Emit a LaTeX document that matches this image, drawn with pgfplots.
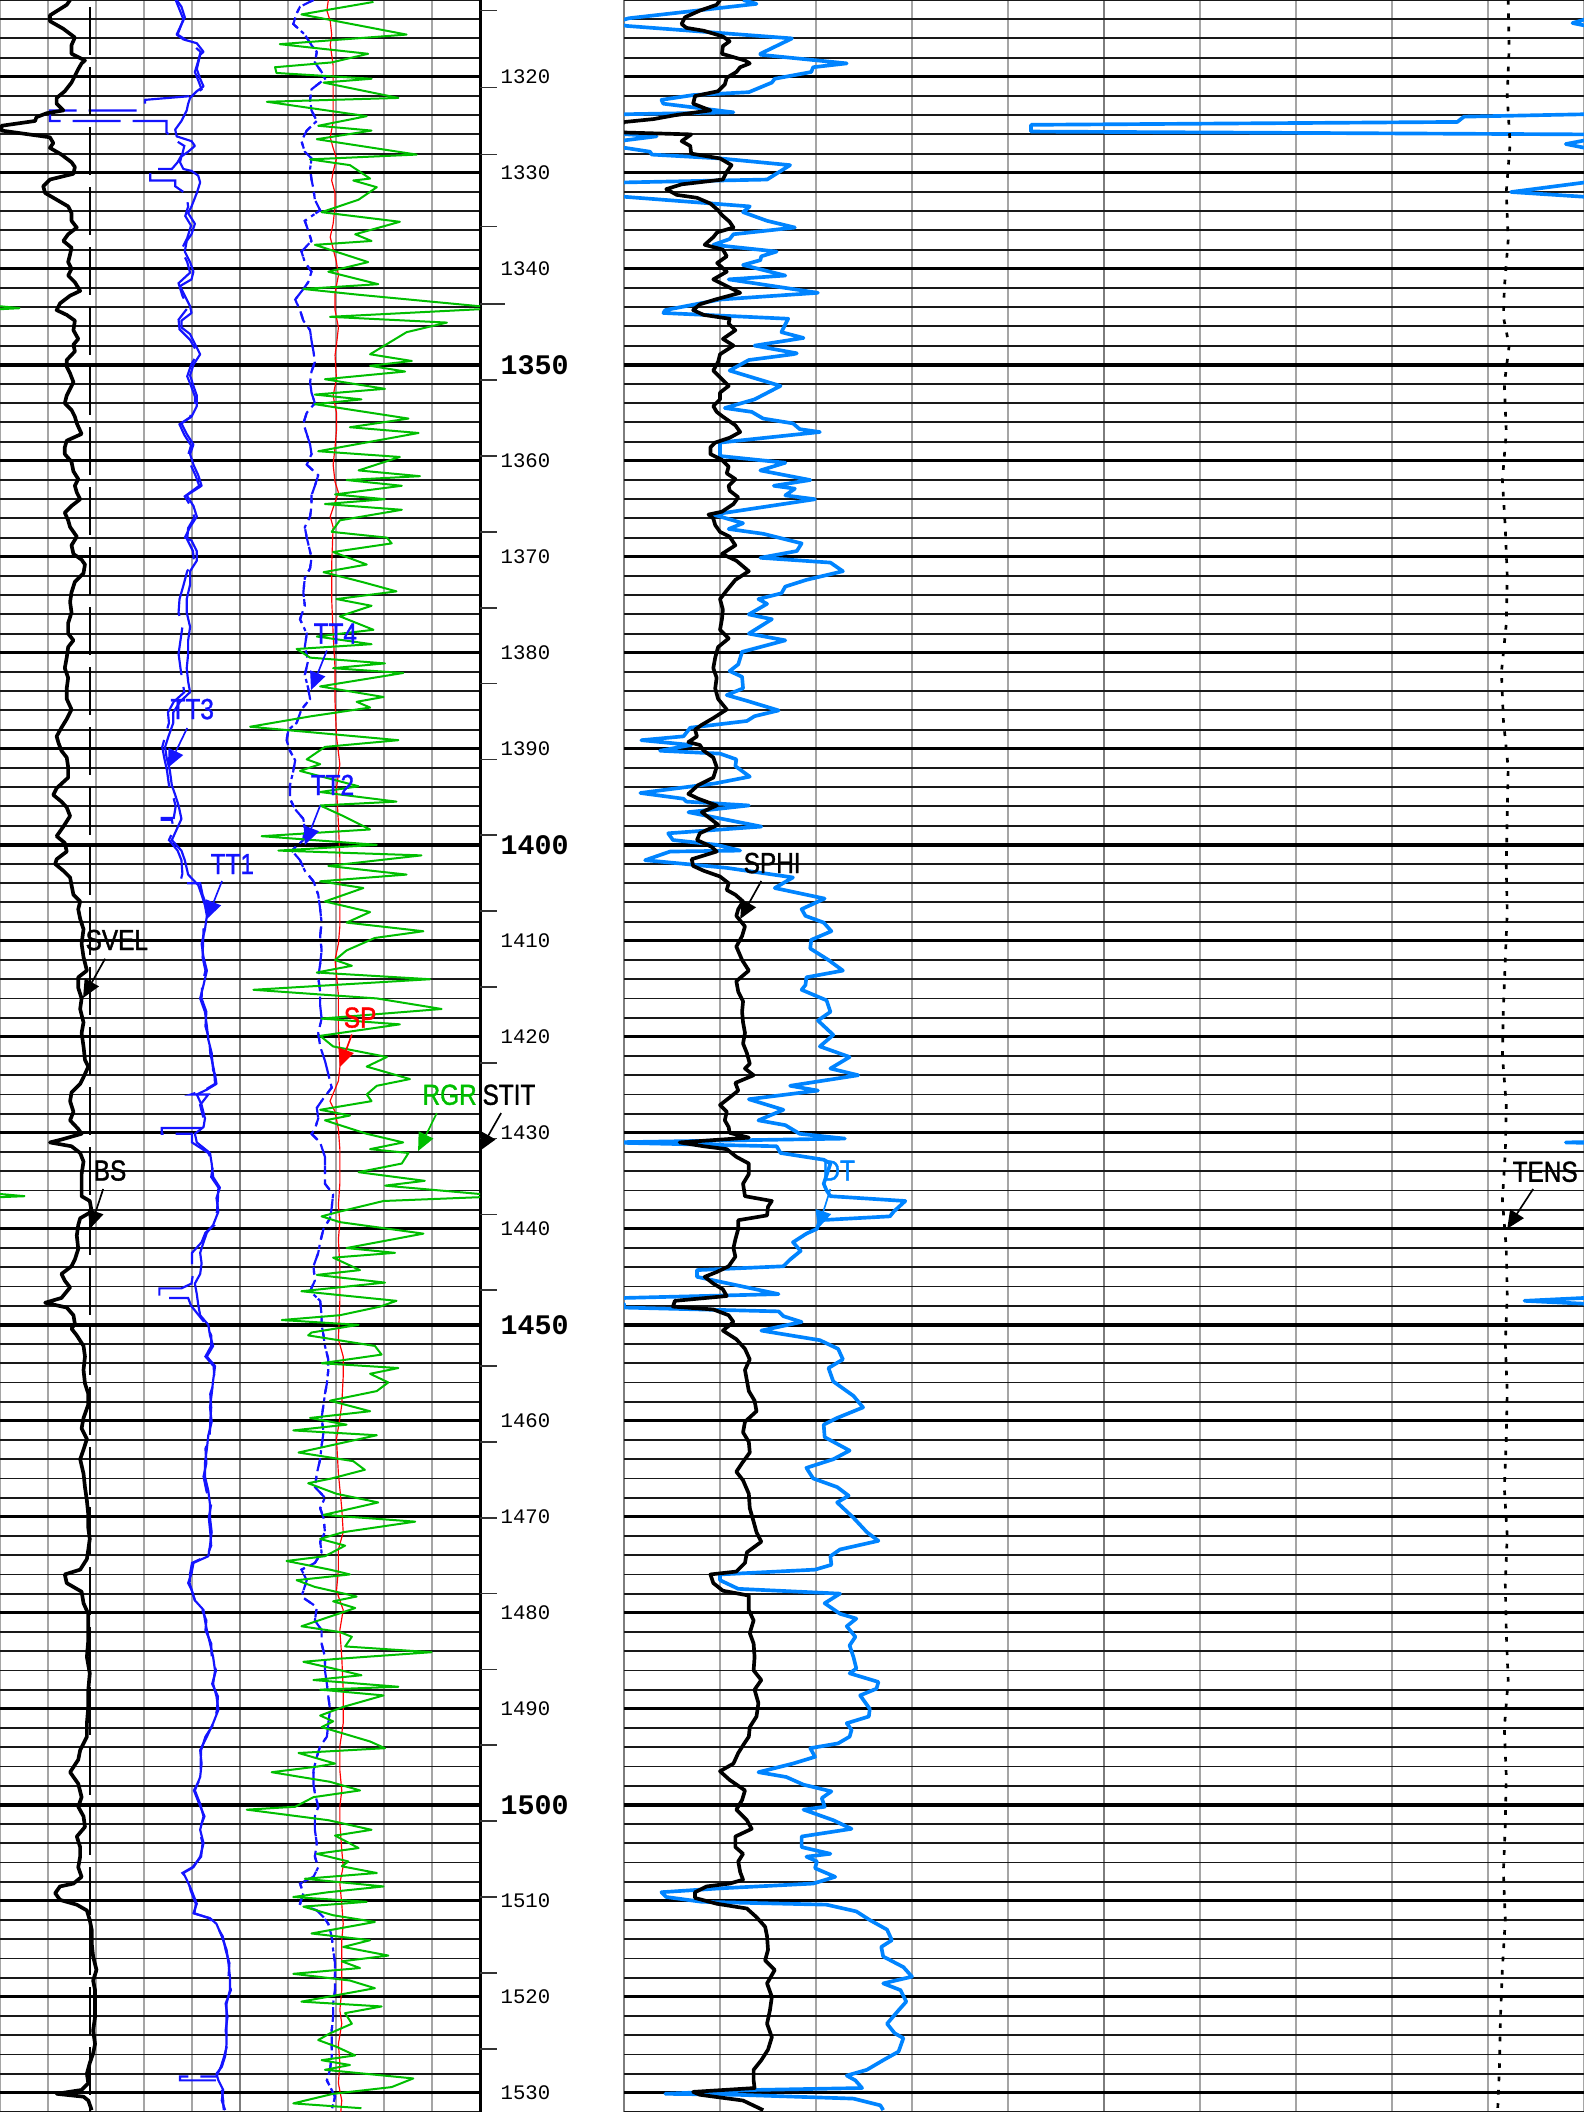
\documentclass[border=0pt]{standalone}
\usepackage{pgfplots}
\pgfplotsset{compat=1.18}
\usepackage{pgfplotstable}
\usepackage{fontspec}
\usetikzlibrary{arrows.meta}
\newfontfamily\lblfont[FakeStretch=0.84,FakeBold=1.2]{Liberation Sans}
\newfontfamily\depthfont{Liberation Mono}
\definecolor{ttblue}{RGB}{20,20,255}
\definecolor{dtblue}{RGB}{0,132,255}
\definecolor{rgrgreen}{RGB}{0,190,0}
\definecolor{gridgray}{RGB}{165,165,165}
\definecolor{griddark}{RGB}{125,125,125}

% ---------- left track curves (depth, value in track divisions) ----------
\pgfplotstableread[row sep=\\]{d v\\
1312.0 1.46\\ 1312.5 1.39\\ 1313.6 1.04\\ 1314.2 1.04\\ 1315.0 1.32\\ 1315.9 1.56\\ 1316.7 1.49\\ 1317.6 1.49\\ 1318.3 1.77\\ 1318.6 1.70\\
1319.2 1.63\\ 1319.9 1.56\\ 1320.6 1.49\\ 1321.5 1.35\\ 1322.2 1.18\\ 1322.8 1.18\\ 1323.5 1.32\\ 1323.8 0.97\\ 1324.2 0.76\\ 1324.6 0.73\\
1325.1 0.03\\ 1325.6 0.03\\ 1326.3 1.04\\ 1326.9 1.11\\ 1327.4 1.04\\ 1328.1 1.28\\ 1328.9 1.49\\ 1329.4 1.56\\ 1330.1 1.53\\ 1330.7 1.04\\
1331.4 0.90\\ 1332.1 0.94\\ 1332.8 1.18\\ 1333.5 1.42\\ 1334.2 1.49\\ 1335.0 1.49\\ 1335.7 1.60\\ 1336.4 1.42\\ 1337.1 1.32\\ 1337.8 1.49\\
1338.5 1.46\\ 1339.3 1.42\\ 1340.0 1.49\\ 1340.7 1.42\\ 1341.4 1.56\\ 1342.3 1.67\\ 1342.8 1.46\\ 1343.6 1.25\\ 1344.3 1.18\\ 1344.8 1.39\\
1345.4 1.56\\ 1346.4 1.53\\ 1347.3 1.63\\ 1347.9 1.53\\ 1348.6 1.56\\ 1349.5 1.39\\ 1350.2 1.39\\ 1350.9 1.46\\ 1351.8 1.53\\ 1352.5 1.46\\
1353.2 1.39\\ 1354.0 1.35\\ 1354.7 1.49\\ 1355.4 1.56\\ 1356.1 1.60\\ 1357.2 1.70\\ 1357.9 1.39\\ 1358.6 1.35\\ 1359.3 1.35\\ 1360.1 1.49\\
1361.1 1.53\\ 1361.9 1.63\\ 1362.6 1.56\\ 1363.3 1.60\\ 1364.0 1.67\\ 1364.7 1.49\\ 1365.4 1.35\\ 1366.2 1.42\\ 1366.9 1.46\\ 1367.9 1.60\\
1368.8 1.49\\ 1369.7 1.53\\ 1370.3 1.70\\ 1370.8 1.77\\ 1371.7 1.74\\ 1372.6 1.56\\ 1373.7 1.49\\ 1374.7 1.46\\ 1375.8 1.49\\ 1376.9 1.42\\
1378.0 1.42\\ 1378.7 1.53\\ 1379.4 1.42\\ 1380.5 1.39\\ 1381.6 1.35\\ 1382.6 1.42\\ 1383.7 1.39\\ 1384.8 1.39\\ 1385.9 1.49\\ 1386.9 1.39\\
1387.8 1.28\\ 1388.7 1.18\\ 1389.4 1.22\\ 1390.2 1.28\\ 1390.9 1.39\\ 1391.9 1.42\\ 1393.0 1.42\\ 1394.1 1.18\\ 1394.8 1.11\\ 1395.5 1.28\\
1396.1 1.39\\ 1397.0 1.46\\ 1398.1 1.32\\ 1399.1 1.18\\ 1399.8 1.35\\ 1400.7 1.39\\ 1401.5 1.18\\ 1402.0 1.15\\ 1402.7 1.32\\ 1403.4 1.46\\
1404.2 1.49\\ 1405.2 1.53\\ 1405.9 1.67\\ 1406.7 1.63\\ 1407.7 1.67\\ 1408.8 1.74\\ 1410.3 1.70\\ 1411.7 1.74\\ 1413.1 1.81\\ 1413.8 1.63\\
1414.9 1.63\\ 1416.0 1.70\\ 1417.1 1.67\\ 1418.5 1.74\\ 1419.6 1.70\\ 1421.0 1.74\\ 1422.4 1.77\\ 1423.1 1.84\\ 1424.2 1.74\\ 1424.9 1.67\\
1425.8 1.49\\ 1426.7 1.46\\ 1427.8 1.53\\ 1428.7 1.46\\ 1429.6 1.63\\ 1430.1 1.70\\ 1430.7 1.28\\ 1431.0 1.04\\ 1431.4 1.49\\ 1432.1 1.67\\
1433.0 1.74\\ 1434.3 1.70\\ 1435.7 1.70\\ 1436.6 1.70\\ 1437.1 1.87\\ 1438.2 1.91\\ 1438.9 1.67\\ 1439.6 1.63\\ 1440.7 1.60\\ 1442.1 1.63\\
1443.2 1.56\\ 1443.9 1.49\\ 1444.7 1.28\\ 1445.4 1.35\\ 1446.1 1.46\\ 1447.2 1.28\\ 1447.7 0.94\\ 1448.2 1.39\\ 1449.0 1.53\\ 1449.9 1.56\\
1450.4 1.49\\ 1451.1 1.60\\ 1452.2 1.74\\ 1453.3 1.77\\ 1454.7 1.74\\ 1456.1 1.77\\ 1457.2 1.84\\ 1458.3 1.84\\ 1459.7 1.74\\ 1460.8 1.70\\
1461.9 1.81\\ 1463.0 1.74\\ 1464.0 1.67\\ 1465.5 1.74\\ 1466.9 1.77\\ 1468.3 1.81\\ 1469.8 1.84\\ 1471.2 1.84\\ 1472.3 1.87\\ 1473.4 1.84\\
1474.4 1.81\\ 1475.5 1.67\\ 1476.0 1.35\\ 1476.9 1.39\\ 1477.8 1.70\\ 1479.0 1.74\\ 1480.1 1.84\\ 1481.1 1.84\\ 1482.8 1.84\\ 1484.6 1.81\\
1486.3 1.87\\ 1488.0 1.84\\ 1489.8 1.84\\ 1491.5 1.81\\ 1492.9 1.81\\ 1494.3 1.67\\ 1495.3 1.63\\ 1496.6 1.46\\ 1497.8 1.63\\ 1499.2 1.70\\
1500.2 1.63\\ 1501.2 1.74\\ 1502.3 1.77\\ 1503.3 1.60\\ 1504.4 1.67\\ 1505.4 1.67\\ 1506.5 1.63\\ 1507.5 1.70\\ 1508.2 1.53\\ 1508.5 1.25\\
1509.2 1.15\\ 1509.9 1.25\\ 1510.4 1.60\\ 1511.0 1.81\\ 1512.0 1.87\\ 1513.0 1.91\\ 1514.4 1.91\\ 1515.8 1.94\\ 1517.2 2.01\\ 1518.3 1.94\\
1519.3 1.98\\ 1520.7 1.98\\ 1522.1 1.98\\ 1523.5 1.94\\ 1524.9 1.98\\ 1525.9 1.94\\ 1526.9 1.87\\ 1528.0 1.81\\ 1529.0 1.84\\ 1529.7 1.70\\
1530.1 1.18\\ 1530.4 1.74\\ 1530.8 1.84\\ 1531.8 1.91\\
}\svel

\pgfplotstableread[row sep=\\]{d v\\
1312.0 3.68\\ 1312.7 3.78\\ 1313.8 3.85\\ 1315.6 3.68\\ 1316.1 3.82\\ 1316.5 4.10\\ 1317.4 4.24\\ 1317.7 4.17\\ 1319.2 4.10\\ 1320.2 4.17\\
1321.0 4.24\\ 1321.5 4.10\\ 1322.2 3.96\\ 1322.8 3.92\\ 1323.5 3.89\\ 1324.6 3.78\\ 1325.5 3.65\\ 1326.2 3.68\\ 1326.7 3.99\\ 1327.2 4.06\\
1327.8 3.92\\ 1328.3 3.78\\ 1328.9 3.75\\ 1329.6 3.82\\ 1329.8 3.99\\ 1330.3 4.13\\ 1331.0 4.17\\ 1332.1 4.10\\ 1333.5 3.99\\ 1334.2 3.92\\
1335.3 4.06\\ 1336.4 3.99\\ 1337.1 3.89\\ 1338.2 3.85\\ 1339.3 3.96\\ 1340.3 4.03\\ 1341.1 3.99\\ 1341.8 3.75\\ 1342.8 3.85\\ 1343.9 3.96\\
1344.6 3.99\\ 1345.4 3.78\\ 1346.1 3.78\\ 1346.8 3.96\\ 1347.5 4.03\\ 1348.2 4.10\\ 1348.9 4.17\\ 1350.0 4.03\\ 1351.1 3.96\\ 1352.2 4.03\\
1353.2 4.10\\ 1354.3 4.10\\ 1355.4 3.99\\ 1356.1 3.78\\ 1357.2 3.89\\ 1358.3 4.03\\ 1359.3 3.96\\ 1360.4 4.03\\ 1361.5 4.13\\ 1362.6 4.20\\
1363.6 3.89\\ 1364.7 4.03\\ 1365.8 4.10\\ 1366.9 3.96\\ 1368.0 3.85\\ 1368.3 3.99\\ 1369.4 4.10\\ 1370.4 4.10\\ 1371.5 3.96\\ 1372.9 3.96\\
1374.4 3.89\\ 1375.8 3.89\\ 1377.3 3.96\\ 1378.7 3.92\\ 1380.1 3.92\\ 1381.6 3.89\\ 1383.0 3.92\\ 1384.1 3.96\\ 1385.1 3.75\\ 1386.2 3.61\\
1387.3 3.61\\ 1388.7 3.51\\ 1389.8 3.44\\ 1390.9 3.47\\ 1392.3 3.54\\ 1393.8 3.58\\ 1394.8 3.65\\ 1395.9 3.72\\ 1397.3 3.78\\ 1398.4 3.68\\
1399.5 3.58\\ 1400.6 3.78\\ 1401.6 3.85\\ 1403.1 3.92\\ 1404.2 4.13\\ 1405.2 4.20\\ 1406.3 4.27\\ 1407.4 4.31\\ 1408.8 4.27\\ 1410.3 4.20\\
1411.7 4.24\\ 1413.1 4.31\\ 1414.6 4.24\\ 1416.0 4.17\\ 1417.4 4.27\\ 1418.9 4.31\\ 1420.3 4.34\\ 1421.7 4.41\\ 1423.5 4.44\\ 1423.9 4.48\\
1424.9 4.51\\ 1425.5 4.31\\ 1426.0 4.10\\ 1427.1 4.20\\ 1428.5 4.27\\ 1429.4 4.24\\ 1430.1 4.06\\ 1431.0 4.10\\ 1432.1 4.375\\ 1433.2 4.41\\
1434.6 4.44\\ 1435.7 4.58\\ 1436.8 4.51\\ 1438.2 4.55\\ 1439.6 4.44\\ 1440.4 4.31\\ 1441.4 4.24\\ 1442.5 4.17\\ 1443.6 4.20\\ 1444.7 4.17\\
1445.7 4.06\\ 1446.8 4.10\\ 1447.9 4.13\\ 1449.0 4.17\\ 1450.0 4.34\\ 1451.1 4.375\\ 1452.2 4.44\\ 1453.3 4.31\\ 1454.3 4.48\\ 1455.8 4.44\\
1457.2 4.41\\ 1458.6 4.375\\ 1460.1 4.41\\ 1461.5 4.34\\ 1462.9 4.31\\ 1464.4 4.27\\ 1465.8 4.27\\ 1467.3 4.34\\ 1468.7 4.375\\ 1470.1 4.375\\
1471.6 4.41\\ 1473.0 4.375\\ 1474.1 4.34\\ 1474.8 4.03\\ 1475.9 3.99\\ 1476.9 3.92\\ 1477.6 3.99\\ 1478.7 4.06\\ 1479.7 4.24\\ 1480.8 4.27\\
1481.8 4.31\\ 1483.2 4.375\\ 1484.6 4.44\\ 1486.0 4.48\\ 1487.4 4.44\\ 1488.7 4.51\\ 1490.1 4.55\\ 1491.5 4.44\\ 1492.9 4.31\\ 1494.3 4.17\\
1495.7 4.20\\ 1497.1 4.17\\ 1498.5 4.06\\ 1499.9 4.17\\ 1501.2 4.24\\ 1502.6 4.17\\ 1504.0 4.24\\ 1505.4 4.17\\ 1506.5 4.03\\ 1507.1 3.82\\
1507.8 3.89\\ 1508.9 3.99\\ 1510.3 4.10\\ 1511.3 4.03\\ 1511.8 4.375\\ 1512.4 4.51\\ 1513.7 4.62\\ 1515.1 4.72\\ 1516.5 4.76\\ 1517.9 4.79\\
1519.3 4.79\\ 1520.7 4.72\\ 1522.1 4.72\\ 1523.5 4.72\\ 1524.9 4.72\\ 1526.2 4.69\\ 1527.3 4.62\\ 1528.0 4.51\\ 1528.7 4.55\\ 1529.7 4.65\\
1530.8 4.62\\ 1531.8 4.69\\
}\ttone

\pgfplotstableread[row sep=\\]{d v\\
1312.0 3.66\\ 1313.0 3.74\\ 1314.0 3.82\\ 1315.6 3.70\\ 1316.4 3.95\\ 1317.4 4.18\\ 1318.5 4.12\\ 1319.5 4.06\\ 1320.5 4.14\\ 1321.3 4.20\\
1322.0 3.99\\ 1322.4 3.02\\ 1322.8 3.02\\ 1323.5 2.92\\ 1323.5 1.04\\ 1324.6 1.04\\ 1324.6 3.47\\ 1325.8 3.47\\ 1326.7 3.68\\ 1327.2 3.84\\
1328.0 3.80\\ 1328.9 3.70\\ 1329.6 3.58\\ 1329.6 3.13\\ 1330.8 3.13\\ 1330.8 3.65\\ 1331.4 3.65\\ 1332.2 3.88\\ 1333.5 3.92\\ 1334.5 3.86\\
1335.5 3.98\\ 1336.8 3.90\\ 1338.0 3.78\\ 1339.3 3.90\\ 1340.4 3.96\\ 1341.5 3.72\\ 1342.8 3.80\\ 1344.0 3.92\\ 1345.3 3.72\\ 1346.3 3.74\\
1347.4 3.96\\ 1348.8 4.12\\ 1350.0 3.98\\ 1351.2 3.90\\ 1352.2 3.98\\ 1353.3 4.06\\ 1354.4 4.06\\ 1355.5 3.95\\ 1356.2 3.74\\ 1357.3 3.84\\
1358.4 3.98\\ 1359.4 3.92\\ 1360.5 3.98\\ 1361.6 4.08\\ 1362.6 4.15\\ 1363.7 3.85\\ 1364.8 3.98\\ 1365.9 4.05\\ 1367.0 3.92\\ 1368.2 3.90\\
1369.4 4.02\\ 1370.5 4.04\\ 1371.5 3.90\\ 1373.0 3.82\\ 1374.4 3.74\\ 1375.8 3.72\\ 1377.3 3.80\\ 1378.7 3.76\\ 1380.1 3.72\\ 1381.6 3.76\\
1383.0 3.80\\ 1384.1 3.84\\ 1385.1 3.62\\ 1386.2 3.50\\ 1387.3 3.52\\ 1388.7 3.44\\ 1389.8 3.38\\ 1390.9 3.42\\ 1392.3 3.48\\ 1393.8 3.52\\
1394.8 3.60\\ 1396.0 3.66\\ 1397.2 3.62\\ 1397.2 3.37\\ 1397.4 3.37\\ 1397.4 3.58\\ 1398.4 3.62\\ 1399.5 3.52\\ 1400.6 3.70\\ 1401.6 3.78\\
1403.0 3.80\\ 1404.0 3.75\\ 1404.0 4.17\\ 1405.2 4.22\\ 1406.3 4.30\\ 1407.4 4.34\\ 1408.8 4.24\\ 1410.3 4.23\\ 1411.7 4.22\\ 1413.1 4.28\\
1414.6 4.21\\ 1416.0 4.20\\ 1417.4 4.30\\ 1418.9 4.28\\ 1420.3 4.36\\ 1421.7 4.38\\ 1423.5 4.46\\ 1424.9 4.48\\ 1425.5 4.28\\ 1426.0 3.98\\
1426.0 4.34\\ 1427.1 4.17\\ 1428.5 4.24\\ 1429.5 4.24\\ 1429.5 3.37\\ 1430.1 3.37\\ 1430.1 4.00\\ 1431.0 4.00\\ 1432.1 4.34\\ 1433.2 4.44\\
1434.6 4.40\\ 1435.7 4.55\\ 1436.8 4.54\\ 1438.2 4.52\\ 1439.6 4.47\\ 1440.4 4.28\\ 1441.4 4.20\\ 1442.5 4.00\\ 1443.6 4.00\\ 1444.7 4.02\\
1445.7 3.99\\ 1446.2 3.78\\ 1446.2 3.32\\ 1447.2 3.32\\ 1447.2 3.92\\ 1448.0 3.98\\ 1449.0 4.14\\ 1450.0 4.30\\ 1451.1 4.40\\ 1452.2 4.40\\
1453.3 4.28\\ 1454.3 4.45\\ 1455.8 4.47\\ 1457.2 4.38\\ 1458.6 4.40\\ 1460.1 4.38\\ 1461.5 4.37\\ 1462.9 4.28\\ 1464.4 4.30\\ 1465.8 4.24\\
1467.3 4.30\\ 1468.7 4.40\\ 1470.1 4.35\\ 1471.6 4.38\\ 1473.0 4.40\\ 1474.1 4.31\\ 1474.8 4.00\\ 1475.9 3.96\\ 1476.9 3.95\\ 1478.7 4.06\\
1479.7 4.21\\ 1480.8 4.30\\ 1481.8 4.28\\ 1483.2 4.40\\ 1484.6 4.41\\ 1486.0 4.50\\ 1487.4 4.42\\ 1488.7 4.54\\ 1490.1 4.52\\ 1491.5 4.46\\
1492.9 4.28\\ 1494.3 4.19\\ 1495.7 4.18\\ 1497.1 4.19\\ 1498.5 4.04\\ 1499.9 4.15\\ 1501.2 4.26\\ 1502.6 4.15\\ 1504.0 4.22\\ 1505.4 4.19\\
1506.5 4.01\\ 1507.1 3.80\\ 1507.8 3.92\\ 1508.9 3.97\\ 1510.3 4.08\\ 1511.3 4.05\\ 1511.8 4.35\\ 1512.4 4.49\\ 1513.7 4.64\\ 1515.1 4.70\\
1516.5 4.78\\ 1517.9 4.76\\ 1519.3 4.81\\ 1520.7 4.70\\ 1522.1 4.74\\ 1523.5 4.70\\ 1524.9 4.74\\ 1526.2 4.67\\ 1527.3 4.60\\ 1528.3 4.51\\
1528.3 3.75\\ 1528.7 3.75\\ 1528.7 4.53\\ 1529.7 4.62\\ 1530.8 4.65\\ 1531.8 4.66\\
}\ttthree

\pgfplotstableread[row sep=\\]{d v\\
1312.0 6.53\\ 1312.7 6.25\\ 1313.4 6.18\\ 1314.5 6.11\\ 1315.6 6.35\\ 1316.7 6.49\\ 1317.4 6.60\\ 1318.5 6.56\\ 1319.5 6.70\\ 1320.2 6.77\\
1321.3 6.49\\ 1322.4 6.46\\ 1323.5 6.49\\ 1324.6 6.60\\ 1325.6 6.39\\ 1326.7 6.28\\ 1327.8 6.35\\ 1328.5 6.49\\ 1329.6 6.46\\ 1330.7 6.49\\
1331.7 6.53\\ 1332.8 6.56\\ 1333.9 6.67\\ 1335.0 6.35\\ 1336.0 6.42\\ 1337.1 6.49\\ 1338.2 6.28\\ 1339.3 6.35\\ 1340.3 6.49\\ 1341.4 6.42\\
1342.1 6.32\\ 1343.2 6.15\\ 1344.3 6.25\\ 1345.4 6.32\\ 1346.4 6.46\\ 1347.5 6.49\\ 1348.6 6.53\\ 1349.7 6.56\\ 1350.7 6.49\\ 1351.8 6.46\\
1352.9 6.49\\ 1354.0 6.56\\ 1355.0 6.39\\ 1356.1 6.32\\ 1357.2 6.39\\ 1358.3 6.46\\ 1359.3 6.49\\ 1360.4 6.39\\ 1361.5 6.63\\ 1362.6 6.56\\
1363.6 6.49\\ 1364.7 6.49\\ 1365.8 6.46\\ 1366.9 6.35\\ 1368.0 6.39\\ 1368.6 6.42\\ 1370.1 6.49\\ 1371.2 6.46\\ 1372.2 6.35\\ 1373.7 6.32\\
1375.1 6.35\\ 1376.5 6.25\\ 1378.0 6.39\\ 1379.4 6.35\\ 1380.8 6.42\\ 1382.3 6.35\\ 1383.7 6.42\\ 1384.8 6.46\\ 1385.9 6.28\\ 1387.3 6.18\\
1388.0 6.01\\ 1389.1 5.97\\ 1390.2 6.04\\ 1391.2 6.15\\ 1392.3 6.11\\ 1393.8 6.04\\ 1395.2 6.04\\ 1396.3 6.15\\ 1397.3 6.32\\ 1398.4 6.35\\
1399.5 6.32\\ 1400.6 6.08\\ 1401.6 6.25\\ 1402.7 6.35\\ 1403.8 6.53\\ 1405.2 6.63\\ 1406.7 6.67\\ 1408.1 6.70\\ 1409.5 6.67\\ 1411.0 6.70\\
1412.4 6.67\\ 1413.8 6.63\\ 1415.3 6.67\\ 1416.7 6.67\\ 1418.1 6.70\\ 1419.6 6.63\\ 1421.0 6.67\\ 1422.5 6.77\\ 1423.9 6.84\\ 1425.3 6.91\\
1426.4 6.74\\ 1427.4 6.60\\ 1428.5 6.63\\ 1429.6 6.56\\ 1430.1 6.49\\ 1431.0 6.67\\ 1432.5 6.77\\ 1433.9 6.77\\ 1435.3 6.77\\ 1436.4 6.94\\
1437.8 6.91\\ 1438.9 6.875\\ 1440.0 6.74\\ 1441.4 6.67\\ 1442.5 6.63\\ 1443.9 6.53\\ 1445.4 6.56\\ 1446.5 6.46\\ 1447.5 6.67\\ 1449.0 6.70\\
1450.0 6.70\\ 1451.1 6.74\\ 1452.2 6.77\\ 1453.6 6.84\\ 1454.7 6.84\\ 1456.1 6.81\\ 1457.2 6.77\\ 1458.3 6.74\\ 1459.7 6.70\\ 1461.2 6.74\\
1462.6 6.70\\ 1464.0 6.67\\ 1465.5 6.60\\ 1466.9 6.56\\ 1468.0 6.77\\ 1469.1 6.67\\ 1470.1 6.74\\ 1471.6 6.77\\ 1472.6 6.67\\ 1473.7 6.70\\
1474.8 6.56\\ 1475.5 6.28\\ 1476.6 6.39\\ 1477.7 6.32\\ 1478.3 6.28\\ 1479.4 6.60\\ 1480.8 6.56\\ 1481.8 6.70\\ 1483.2 6.70\\ 1484.6 6.77\\
1486.0 6.77\\ 1487.4 6.81\\ 1488.7 6.84\\ 1490.1 6.875\\ 1491.5 6.84\\ 1492.9 6.81\\ 1493.9 6.67\\ 1495.0 6.60\\ 1496.4 6.53\\ 1497.8 6.53\\
1498.8 6.56\\ 1500.2 6.63\\ 1501.2 6.56\\ 1502.6 6.56\\ 1504.0 6.60\\ 1505.4 6.56\\ 1506.5 6.63\\ 1507.5 6.53\\ 1508.2 6.25\\ 1509.2 6.32\\
1510.3 6.25\\ 1511.0 6.60\\ 1511.7 6.74\\ 1512.4 6.84\\ 1513.7 6.91\\ 1515.1 6.94\\ 1516.5 6.98\\ 1517.9 6.98\\ 1519.3 6.98\\ 1520.7 6.94\\
1522.1 6.94\\ 1523.5 6.91\\ 1524.9 6.91\\ 1526.2 6.91\\ 1527.6 6.875\\ 1528.7 6.81\\ 1529.7 6.91\\ 1530.4 6.98\\ 1531.8 6.91\\
}\tttwo

\pgfplotstableread[row sep=\\]{d v\\
1312.0 6.84\\ 1313.1 6.81\\ 1314.2 6.88\\ 1315.6 6.91\\ 1316.7 6.88\\ 1317.7 6.91\\ 1318.8 6.94\\ 1320.2 6.94\\ 1322.8 6.94\\ 1324.7 6.94\\
1326.3 6.88\\ 1327.4 6.94\\ 1328.5 7.01\\ 1329.9 6.94\\ 1330.8 6.91\\ 1332.1 6.98\\ 1333.5 6.98\\ 1335.3 6.94\\ 1336.7 6.88\\ 1339.3 7.01\\
1340.7 7.05\\ 1342.5 6.98\\ 1344.3 6.98\\ 1346.1 7.05\\ 1347.9 7.01\\ 1349.0 6.98\\ 1351.5 7.01\\ 1353.2 6.94\\ 1355.0 7.01\\ 1356.8 7.01\\
1358.6 6.98\\ 1360.4 6.94\\ 1362.2 6.98\\ 1363.3 7.05\\ 1364.9 6.94\\ 1365.8 6.88\\ 1366.9 6.94\\ 1370.8 6.91\\ 1374.4 6.91\\ 1378.0 6.94\\
1381.6 6.98\\ 1385.1 6.98\\ 1388.7 7.01\\ 1391.6 7.08\\ 1394.1 7.01\\ 1397.7 7.05\\ 1401.3 7.08\\ 1404.9 7.08\\ 1408.5 7.08\\ 1410.3 7.05\\
1412.0 6.98\\ 1415.6 7.05\\ 1419.2 7.05\\ 1421.7 7.08\\ 1423.2 7.08\\ 1424.6 7.05\\ 1426.7 6.875\\ 1427.8 6.98\\ 1429.6 7.05\\ 1431.7 7.08\\
1435.3 7.08\\ 1437.5 7.05\\ 1439.3 7.08\\ 1441.1 7.05\\ 1443.9 7.08\\ 1447.5 7.08\\ 1451.5 7.05\\ 1453.3 7.15\\ 1455.4 7.15\\ 1458.3 7.12\\
1459.7 7.08\\ 1461.9 7.01\\ 1465.5 7.05\\ 1469.1 7.12\\ 1471.6 7.15\\ 1473.4 7.05\\ 1475.5 7.05\\ 1477.7 7.01\\ 1479.7 7.15\\ 1481.8 7.08\\
1484.6 7.12\\ 1488.0 7.15\\ 1491.5 7.15\\ 1493.9 7.08\\ 1496.4 7.08\\ 1498.5 7.12\\ 1500.2 7.08\\ 1501.9 7.08\\ 1504.7 7.12\\ 1506.4 7.15\\
1508.2 7.08\\ 1510.3 7.12\\ 1512.4 7.15\\ 1514.1 7.12\\ 1516.5 7.12\\ 1519.3 7.12\\ 1521.4 7.08\\ 1522.8 7.12\\ 1524.9 7.05\\ 1526.9 7.08\\
1529.0 7.05\\ 1530.8 7.12\\ 1532.0 7.10\\
}\spcurve

\pgfplotstableread[row sep=\\]{d v\\
1312.2 7.78\\ 1313.5 6.28\\ 1315.6 8.47\\ 1316.6 5.83\\ 1317.6 7.67\\ 1318.5 6.91\\ 1319.0 5.73\\ 1319.6 5.76\\ 1320.2 7.74\\ 1320.6 6.74\\
1322.2 8.30\\ 1322.6 5.56\\ 1324.1 7.64\\ 1325.1 6.63\\ 1325.6 7.74\\ 1326.5 6.60\\ 1328.1 8.68\\ 1328.6 6.46\\ 1329.2 7.29\\ 1330.6 7.71\\
1330.8 7.36\\ 1331.5 7.85\\ 1332.8 7.47\\ 1334.1 6.70\\ 1335.1 8.33\\ 1336.4 7.40\\ 1337.1 7.74\\ 1337.5 6.56\\ 1339.3 7.67\\ 1340.3 6.84\\
1341.6 7.88\\ 1342.1 6.32\\ 1342.7 7.47\\ 1344.1 10.42\\ 1345.0 6.875\\ 1345.6 9.31\\ 1346.6 8.47\\ 1348.9 7.71\\ 1349.6 8.58\\ 1350.1 7.71\\
1350.7 8.44\\ 1351.5 6.77\\ 1352.5 8.02\\ 1353.1 6.56\\ 1353.6 7.53\\ 1354.1 6.56\\ 1355.6 8.51\\ 1356.5 7.29\\ 1357.1 8.72\\ 1359.0 6.63\\
1359.6 8.33\\ 1361.0 7.47\\ 1361.6 8.75\\ 1362.0 7.22\\ 1362.6 8.37\\ 1363.5 6.98\\ 1364.0 8.02\\ 1364.5 6.77\\ 1365.1 8.37\\ 1366.2 7.08\\
1367.4 6.91\\ 1368.0 8.06\\ 1368.6 8.16\\ 1369.5 6.94\\ 1370.8 7.64\\ 1371.6 6.74\\ 1372.6 7.53\\ 1373.6 8.26\\ 1374.4 7.01\\ 1375.1 7.74\\
1376.2 7.08\\ 1377.6 7.78\\ 1378.3 6.60\\ 1379.1 7.74\\ 1379.6 6.18\\ 1380.5 6.46\\ 1381.1 8.02\\ 1381.6 6.94\\ 1382.1 8.40\\ 1383.5 6.67\\
1384.6 7.99\\ 1385.1 7.43\\ 1385.7 7.71\\ 1386.6 6.49\\ 1387.7 5.21\\ 1389.1 8.30\\ 1389.8 6.77\\ 1391.1 6.39\\ 1391.6 6.67\\ 1392.3 6.25\\
1393.9 7.47\\ 1394.5 6.67\\ 1395.5 8.26\\ 1395.9 6.67\\ 1397.0 7.15\\ 1398.4 7.71\\ 1399.1 5.45\\ 1400.0 7.85\\ 1400.6 5.80\\ 1401.1 8.78\\
1402.2 6.84\\ 1403.1 8.47\\ 1403.8 6.67\\ 1404.5 7.57\\ 1405.9 6.77\\ 1407.0 7.71\\ 1408.1 7.22\\ 1409.0 8.82\\ 1409.7 7.81\\ 1411.0 7.22\\
1412.0 6.98\\ 1412.6 7.33\\ 1413.3 6.60\\ 1414.0 8.96\\ 1415.1 5.28\\ 1416.0 7.85\\ 1417.1 9.20\\ 1418.1 6.70\\ 1418.7 8.33\\ 1419.9 6.67\\
1421.0 6.94\\ 1422.1 8.06\\ 1423.1 7.64\\ 1424.4 8.54\\ 1425.1 7.85\\ 1426.0 7.64\\ 1426.7 7.74\\ 1427.6 6.67\\ 1428.2 7.29\\ 1428.7 6.77\\
1430.1 7.64\\ 1431.0 8.40\\ 1431.7 7.71\\ 1432.1 8.51\\ 1433.2 8.37\\ 1434.1 7.47\\ 1435.0 8.85\\ 1435.5 8.02\\ 1436.6 10.52\\ 1437.1 7.99\\
1438.2 7.08\\ 1438.7 6.70\\ 1439.3 7.08\\ 1440.5 8.82\\ 1442.0 7.22\\ 1442.5 8.23\\ 1443.0 6.94\\ 1444.3 7.50\\ 1444.8 6.60\\ 1445.6 8.02\\
1446.5 6.28\\ 1447.5 8.26\\ 1448.1 7.92\\ 1449.0 7.08\\ 1449.5 5.87\\ 1450.0 7.47\\ 1450.8 6.49\\ 1451.1 6.42\\ 1452.2 7.81\\ 1453.1 7.95\\
1454.0 6.70\\ 1454.5 8.30\\ 1455.1 7.71\\ 1456.0 8.09\\ 1456.9 7.85\\ 1457.9 6.875\\ 1459.0 7.71\\ 1459.7 6.46\\ 1460.4 7.22\\ 1461.0 6.11\\
1461.5 7.85\\ 1463.3 6.22\\ 1464.2 7.36\\ 1465.1 7.60\\ 1466.0 6.91\\ 1466.5 6.42\\ 1467.6 7.01\\ 1468.5 7.88\\ 1469.8 6.74\\ 1470.5 8.65\\
1471.6 7.15\\ 1472.3 6.67\\ 1473.0 7.19\\ 1474.1 6.77\\ 1474.6 5.97\\ 1475.5 6.875\\ 1476.0 7.29\\ 1476.6 6.18\\ 1477.3 6.56\\ 1478.3 7.43\\
1478.8 6.94\\ 1479.5 7.40\\ 1481.4 6.28\\ 1482.0 7.08\\ 1482.5 7.33\\ 1483.5 7.19\\ 1484.1 8.99\\ 1484.8 7.01\\ 1485.1 6.32\\ 1485.8 6.94\\
1486.5 7.53\\ 1487.0 6.53\\ 1487.7 8.30\\ 1488.0 6.67\\ 1488.6 7.99\\ 1489.8 7.15\\ 1490.7 6.67\\ 1491.3 6.94\\ 1491.9 6.70\\ 1493.4 7.71\\
1494.1 8.02\\ 1494.6 6.22\\ 1495.7 6.98\\ 1496.0 6.63\\ 1496.6 5.66\\ 1497.6 6.875\\ 1498.5 7.50\\ 1499.2 6.53\\ 1500.2 6.15\\ 1500.5 5.14\\
1501.6 6.84\\ 1502.6 7.74\\ 1503.2 6.98\\ 1504.5 7.47\\ 1505.1 6.60\\ 1505.9 7.26\\ 1506.4 7.12\\ 1507.1 7.85\\ 1507.7 6.35\\ 1508.5 7.99\\
1509.1 6.84\\ 1509.6 6.11\\ 1510.1 7.64\\ 1510.6 6.32\\ 1511.5 6.94\\ 1512.2 7.81\\ 1513.4 6.49\\ 1514.1 7.71\\ 1514.8 7.15\\ 1515.7 8.09\\
1516.3 7.12\\ 1517.0 7.50\\ 1517.6 6.11\\ 1518.3 7.29\\ 1519.1 7.81\\ 1520.5 6.28\\ 1521.0 7.95\\ 1521.7 7.19\\ 1522.8 7.33\\ 1523.8 6.875\\
1524.5 6.63\\ 1525.2 7.01\\ 1526.1 7.40\\ 1526.6 6.70\\ 1527.1 7.29\\ 1527.6 6.77\\ 1528.5 8.61\\ 1529.4 8.16\\ 1530.1 6.94\\ 1531.1 6.11\\
1531.6 7.53\\
}\rgr

% ---------- right track curves ----------
\pgfplotstableread[row sep=\\]{d v\\
1312.0 1.00\\ 1312.5 0.965\\ 1313.1 0.79\\ 1313.8 0.635\\ 1314.5 0.60\\ 1314.9 0.65\\ 1315.2 0.83\\ 1315.8 1.03\\ 1316.3 1.10\\ 1316.8 1.03\\
1317.6 1.02\\ 1318.3 1.26\\ 1318.6 1.31\\ 1319.0 1.21\\ 1319.5 1.17\\ 1320.1 1.07\\ 1320.8 1.05\\ 1321.5 0.98\\ 1322.0 0.74\\ 1322.8 0.72\\
1323.5 0.90\\ 1324.0 0.53\\ 1324.4 0.31\\ 1324.7 0.01\\ 1325.3 -0.10\\ 1325.8 0.00\\ 1326.0 0.70\\ 1326.7 0.60\\ 1327.2 0.69\\ 1328.0 0.70\\
1328.5 1.00\\ 1329.2 1.12\\ 1329.9 1.07\\ 1330.7 1.03\\ 1331.2 0.60\\ 1331.7 0.44\\ 1332.3 0.55\\ 1332.6 0.76\\ 1333.2 0.90\\ 1333.9 0.98\\
1334.4 1.02\\ 1335.1 1.10\\ 1335.7 1.14\\ 1336.2 0.97\\ 1336.7 0.93\\ 1337.5 0.84\\ 1338.0 1.03\\ 1338.7 1.07\\ 1339.4 0.97\\ 1340.3 1.07\\
1341.1 0.93\\ 1341.6 1.03\\ 1342.5 1.21\\ 1343.2 0.95\\ 1343.7 0.79\\ 1344.3 0.72\\ 1344.8 0.83\\ 1345.2 1.10\\ 1345.7 1.09\\ 1346.4 1.16\\
1347.3 1.03\\ 1348.0 1.14\\ 1348.9 1.00\\ 1349.7 0.98\\ 1350.6 0.93\\ 1351.3 1.00\\ 1352.2 1.09\\ 1352.9 1.00\\ 1353.6 1.00\\ 1354.3 0.93\\
1354.9 0.965\\ 1355.4 1.03\\ 1356.3 1.16\\ 1357.0 1.21\\ 1357.6 1.10\\ 1358.1 0.95\\ 1358.6 0.90\\ 1359.3 0.90\\ 1359.9 1.02\\ 1360.6 1.09\\
1361.3 1.07\\ 1361.9 1.16\\ 1362.6 1.09\\ 1363.1 1.10\\ 1363.8 1.19\\ 1364.5 1.14\\ 1365.3 1.02\\ 1365.6 0.88\\ 1366.0 0.93\\ 1366.7 0.95\\
1367.4 1.00\\ 1367.9 1.10\\ 1368.8 1.16\\ 1369.7 1.02\\ 1370.4 1.17\\ 1371.5 1.30\\ 1372.4 1.16\\ 1373.5 1.07\\ 1374.4 1.00\\ 1375.5 1.03\\
1376.5 1.02\\ 1377.6 1.00\\ 1378.5 1.09\\ 1379.4 0.98\\ 1380.5 0.95\\ 1381.6 0.93\\ 1382.6 0.965\\ 1383.7 0.95\\ 1384.8 0.98\\ 1385.9 1.07\\
1386.8 0.93\\ 1387.5 0.81\\ 1388.0 0.74\\ 1388.7 0.76\\ 1389.3 0.67\\ 1389.6 0.79\\ 1390.2 0.83\\ 1390.9 0.93\\ 1391.9 0.965\\ 1393.0 0.93\\
1393.8 0.77\\ 1394.7 0.67\\ 1395.2 0.775\\ 1395.9 0.965\\ 1396.6 0.81\\ 1397.9 0.98\\ 1398.8 0.79\\ 1399.5 0.76\\ 1400.2 0.91\\ 1400.7 0.965\\
1401.5 0.705\\ 1402.2 0.72\\ 1402.7 0.83\\ 1403.3 1.00\\ 1404.0 1.09\\ 1404.7 1.07\\ 1405.2 1.16\\ 1405.9 1.24\\ 1406.7 1.19\\ 1407.4 1.17\\
1408.5 1.26\\ 1409.5 1.23\\ 1410.6 1.17\\ 1412.0 1.23\\ 1413.1 1.30\\ 1414.2 1.17\\ 1415.3 1.19\\ 1416.3 1.24\\ 1417.4 1.23\\ 1418.5 1.24\\
1419.6 1.26\\ 1420.7 1.24\\ 1421.7 1.28\\ 1422.8 1.31\\ 1423.3 1.26\\ 1424.0 1.35\\ 1424.8 1.16\\ 1425.6 1.19\\ 1426.4 1.09\\ 1427.1 1.00\\
1427.8 1.07\\ 1428.7 1.05\\ 1429.4 1.09\\ 1430.0 1.10\\ 1430.5 1.30\\ 1431.0 0.58\\ 1431.4 0.83\\ 1431.7 1.07\\ 1432.5 1.17\\ 1433.2 1.30\\
1434.3 1.30\\ 1435.3 1.24\\ 1436.6 1.26\\ 1437.1 1.54\\ 1437.7 1.50\\ 1438.6 1.49\\ 1439.1 1.19\\ 1440.0 1.19\\ 1441.1 1.16\\ 1442.0 1.14\\
1442.9 1.16\\ 1443.9 1.09\\ 1444.5 0.965\\ 1445.0 0.84\\ 1445.7 0.93\\ 1446.3 1.03\\ 1447.0 1.07\\ 1447.5 0.53\\ 1448.1 0.51\\ 1448.4 0.93\\
1449.0 1.09\\ 1449.7 1.14\\ 1450.6 1.03\\ 1451.5 1.17\\ 1452.5 1.26\\ 1453.6 1.31\\ 1454.7 1.26\\ 1455.8 1.28\\ 1456.9 1.30\\ 1457.9 1.36\\
1459.0 1.38\\ 1460.1 1.26\\ 1461.2 1.24\\ 1462.2 1.30\\ 1463.3 1.31\\ 1464.4 1.23\\ 1465.3 1.17\\ 1466.2 1.24\\ 1467.6 1.30\\ 1469.1 1.31\\
1470.5 1.35\\ 1471.6 1.38\\ 1472.6 1.43\\ 1473.7 1.28\\ 1474.8 1.26\\ 1475.7 1.17\\ 1476.0 0.90\\ 1476.9 0.93\\ 1477.7 1.03\\ 1478.2 1.30\\
1479.7 1.30\\ 1480.8 1.35\\ 1482.1 1.31\\ 1483.2 1.35\\ 1484.6 1.36\\ 1486.0 1.35\\ 1487.0 1.43\\ 1488.0 1.36\\ 1489.4 1.40\\ 1490.8 1.38\\
1491.9 1.31\\ 1492.9 1.30\\ 1493.8 1.24\\ 1494.6 1.19\\ 1495.7 1.14\\ 1496.5 1.00\\ 1497.4 1.10\\ 1498.5 1.26\\ 1499.5 1.23\\ 1500.5 1.17\\
1501.6 1.28\\ 1502.5 1.33\\ 1503.3 1.16\\ 1504.4 1.16\\ 1505.1 1.24\\ 1505.9 1.19\\ 1507.0 1.21\\ 1507.8 1.24\\ 1508.2 1.10\\ 1508.5 0.86\\
1509.1 0.74\\ 1509.7 0.74\\ 1510.3 0.965\\ 1510.8 1.28\\ 1511.7 1.38\\ 1512.7 1.47\\ 1513.7 1.49\\ 1515.1 1.50\\ 1516.2 1.47\\ 1517.2 1.57\\
1518.6 1.49\\ 1520.0 1.54\\ 1521.4 1.52\\ 1522.8 1.49\\ 1524.2 1.54\\ 1525.5 1.50\\ 1526.6 1.43\\ 1527.6 1.35\\ 1528.7 1.35\\ 1529.5 1.36\\
1529.9 0.72\\ 1530.2 0.79\\ 1530.8 1.24\\ 1531.8 1.45\\
}\sphi

\pgfplotstableread[row sep=\\]{d v\\
1312.0 1.24\\ 1312.4 1.38\\ 1313.9 0.05\\ 1314.4 -0.12\\ 1314.7 0.03\\ 1316.0 1.75\\ 1317.6 1.42\\ 1317.7 1.42\\ 1318.6 2.32\\ 1319.0 1.97\\
1319.5 1.95\\ 1320.2 1.57\\ 1320.6 1.54\\ 1321.6 1.30\\ 1321.9 0.72\\ 1322.4 0.39\\ 1322.8 0.41\\ 1323.7 1.14\\ 1323.9 0.00\\ 1324.15 -1.25\\
1324.7 -1.32\\ 1325.0 -5.76\\ 1325.7 -5.76\\ 1326.0 0.05\\ 1326.2 0.34\\ 1326.6 0.02\\ 1327.0 -0.19\\ 1327.4 0.01\\ 1327.8 0.27\\ 1328.1 0.29\\
1328.5 1.00\\ 1329.2 1.73\\ 1330.7 1.49\\ 1331.0 0.01\\ 1332.0 -0.76\\ 1332.5 0.01\\ 1333.5 1.31\\ 1334.1 1.24\\ 1335.0 1.49\\ 1335.7 1.78\\
1336.4 1.14\\ 1336.9 1.10\\ 1337.5 0.93\\ 1338.2 1.59\\ 1338.7 1.43\\ 1339.1 1.42\\ 1339.6 1.24\\ 1340.7 1.68\\ 1341.1 1.09\\ 1342.5 2.02\\
1343.2 1.00\\ 1344.3 0.43\\ 1344.6 0.41\\ 1345.2 1.71\\ 1346.6 1.64\\ 1347.2 1.87\\ 1348.0 1.36\\ 1348.8 1.80\\ 1348.9 1.76\\ 1349.5 1.30\\
1350.6 1.10\\ 1352.2 1.63\\ 1353.6 1.36\\ 1354.5 1.05\\ 1354.9 1.33\\ 1355.6 1.45\\ 1356.1 1.76\\ 1356.7 1.83\\ 1357.0 2.04\\ 1358.1 1.00\\
1359.5 1.00\\ 1360.2 1.68\\ 1361.0 1.42\\ 1362.0 1.94\\ 1362.6 1.56\\ 1362.9 1.78\\ 1363.6 1.68\\ 1364.0 1.99\\ 1365.6 0.93\\ 1366.5 1.24\\
1367.1 1.09\\ 1367.6 1.45\\ 1368.6 1.85\\ 1369.4 1.80\\ 1370.1 1.42\\ 1370.6 2.15\\ 1371.5 2.28\\ 1372.4 1.90\\ 1373.1 1.68\\ 1373.8 1.64\\
1374.4 1.40\\ 1374.9 1.49\\ 1376.0 1.30\\ 1376.5 1.54\\ 1378.0 1.30\\ 1378.7 1.68\\ 1379.9 1.23\\ 1381.2 1.19\\ 1381.9 1.10\\ 1382.5 1.23\\
1383.7 1.24\\ 1384.4 1.07\\ 1385.0 1.28\\ 1386.0 1.61\\ 1386.6 1.36\\ 1387.1 1.28\\ 1387.8 0.69\\ 1388.7 0.62\\ 1389.1 0.18\\ 1389.6 0.70\\
1390.2 0.375\\ 1390.5 1.00\\ 1391.1 1.17\\ 1391.8 1.16\\ 1392.9 1.31\\ 1393.6 0.95\\ 1394.6 0.17\\ 1395.2 0.62\\ 1395.5 0.65\\ 1395.9 1.30\\
1396.6 0.67\\ 1398.1 1.43\\ 1398.8 0.46\\ 1399.5 0.51\\ 1400.0 0.965\\ 1400.6 1.21\\ 1400.7 0.48\\ 1401.6 0.22\\ 1402.4 1.07\\ 1403.4 1.76\\
1404.5 1.57\\ 1405.6 2.09\\ 1406.7 1.85\\ 1407.4 1.89\\ 1408.1 2.08\\ 1409.0 2.16\\ 1409.9 1.95\\ 1410.8 1.94\\ 1412.0 2.13\\ 1413.1 2.28\\
1413.8 1.90\\ 1414.6 1.89\\ 1415.1 1.85\\ 1416.2 2.11\\ 1417.4 2.15\\ 1418.3 2.02\\ 1419.8 2.18\\ 1421.0 2.04\\ 1422.1 2.35\\ 1423.3 2.15\\
1424.0 2.44\\ 1425.1 1.73\\ 1425.6 2.02\\ 1426.5 1.30\\ 1427.6 1.66\\ 1428.7 1.40\\ 1429.2 1.68\\ 1430.1 1.83\\ 1430.6 2.30\\ 1431.0 -0.19\\
1431.4 1.59\\ 1432.1 1.63\\ 1432.8 2.08\\ 1433.2 2.15\\ 1435.3 2.08\\ 1436.0 2.11\\ 1436.6 2.15\\ 1437.1 2.93\\ 1438.2 2.81\\ 1438.7 2.77\\
1439.1 2.04\\ 1440.0 2.01\\ 1440.5 1.90\\ 1441.4 1.76\\ 1442.3 1.84\\ 1443.2 1.73\\ 1443.9 1.66\\ 1444.3 0.76\\ 1445.0 0.76\\ 1446.8 1.61\\
1447.2 0.00\\ 1447.5 -0.62\\ 1447.8 0.00\\ 1448.2 0.00\\ 1448.6 1.61\\ 1449.1 1.66\\ 1449.7 1.85\\ 1450.6 1.43\\ 1451.6 2.04\\ 1452.5 2.23\\
1453.6 2.28\\ 1454.5 2.13\\ 1455.9 2.18\\ 1457.4 2.39\\ 1458.6 2.49\\ 1459.7 2.22\\ 1460.4 2.08\\ 1461.7 2.09\\ 1463.1 2.35\\ 1464.0 2.18\\
1464.9 1.90\\ 1466.0 1.97\\ 1466.9 2.22\\ 1467.8 2.34\\ 1468.5 2.22\\ 1470.1 2.39\\ 1471.6 2.53\\ 1472.5 2.65\\ 1473.4 2.25\\ 1474.1 2.15\\
1475.0 2.16\\ 1475.5 1.99\\ 1476.0 1.00\\ 1476.6 1.00\\ 1477.5 1.19\\ 1478.0 2.25\\ 1479.0 2.09\\ 1480.1 2.25\\ 1480.6 2.42\\ 1481.4 2.32\\
1482.5 2.41\\ 1483.4 2.35\\ 1484.6 2.39\\ 1485.8 2.42\\ 1486.3 2.35\\ 1487.2 2.65\\ 1487.9 2.63\\ 1488.6 2.46\\ 1490.0 2.56\\ 1490.8 2.55\\
1491.5 2.32\\ 1492.2 2.37\\ 1492.9 2.35\\ 1493.6 2.23\\ 1494.1 1.94\\ 1495.0 1.99\\ 1495.7 1.76\\ 1496.6 1.40\\ 1497.1 1.69\\ 1497.9 1.87\\
1498.6 2.16\\ 1499.3 2.06\\ 1500.2 2.09\\ 1500.5 1.87\\ 1501.6 2.18\\ 1502.5 2.37\\ 1503.3 1.85\\ 1504.4 1.85\\ 1505.1 2.15\\ 1505.4 1.90\\
1505.9 2.01\\ 1506.6 1.99\\ 1507.5 2.20\\ 1508.2 1.97\\ 1508.7 1.00\\ 1509.1 0.39\\ 1509.6 0.44\\ 1510.1 0.81\\ 1510.4 2.11\\ 1511.1 2.42\\
1512.0 2.56\\ 1513.0 2.74\\ 1514.1 2.79\\ 1514.8 2.68\\ 1515.8 2.70\\ 1516.9 2.91\\ 1517.9 3.00\\ 1518.6 2.70\\ 1519.3 2.88\\ 1520.5 2.94\\
1521.4 2.86\\ 1522.8 2.74\\ 1523.8 2.82\\ 1524.3 2.91\\ 1525.7 2.86\\ 1526.6 2.70\\ 1527.6 2.53\\ 1528.2 2.32\\ 1528.7 2.41\\ 1529.5 2.48\\
1529.7 1.35\\ 1530.1 0.43\\ 1530.2 1.17\\ 1530.6 2.39\\ 1531.3 2.67\\ 1531.8 2.70\\
}\dt

% DT where it runs below the left edge, carried over from the right edge
\pgfplotstableread[row sep=\\]{d v\\
1313.9 10.05\\ 1314.4 9.88\\ 1314.7 10.03\\ 1314.7 nan\\
1323.7 11.14\\ 1323.9 10.00\\ 1324.15 8.75\\ 1324.7 8.68\\ 1325.0 4.24\\ 1325.7 4.24\\ 1326.0 10.05\\ 1326.2 10.34\\ 1326.6 10.02\\ 1327.0 9.81\\ 1327.4 10.01\\ 1327.8 10.27\\ 1327.8 nan\\
1331.0 10.01\\ 1332.0 9.24\\ 1332.5 10.01\\ 1332.5 nan\\
1430.6 12.30\\ 1431.0 9.81\\ 1431.4 11.59\\ 1431.4 nan\\
1447.2 10.00\\ 1447.5 9.38\\ 1447.8 10.00\\
}\dtwrap

\pgfplotstableread[row sep=\\]{d v\\
1312 9.21\\ 1317 9.22\\ 1322 9.20\\ 1327 9.23\\ 1332 9.19\\ 1337 9.21\\ 1342 9.17\\ 1345 9.16\\ 1348 9.22\\ 1352 9.17\\
1357 9.19\\ 1362 9.15\\ 1367 9.18\\ 1372 9.20\\ 1377 9.19\\ 1382 9.14\\ 1387 9.16\\ 1392 9.21\\ 1397 9.20\\ 1402 9.19\\
1407 9.20\\ 1412 9.18\\ 1417 9.16\\ 1422 9.15\\ 1427 9.19\\ 1432 9.18\\ 1437 9.15\\ 1442 9.19\\ 1447 9.20\\ 1452 9.18\\
1457 9.20\\ 1462 9.19\\ 1467 9.17\\ 1472 9.20\\ 1477 9.18\\ 1482 9.19\\ 1487 9.21\\ 1492 9.17\\ 1497 9.19\\ 1502 9.18\\
1507 9.16\\ 1512 9.18\\ 1517 9.15\\ 1522 9.13\\ 1527 9.12\\ 1532 9.10\\
}\tens

\pgfplotsset{
  logtrack/.style={scale only axis, height=633.6pt, xmin=0, xmax=10,
    ymin=1312, ymax=1532, y dir=reverse, axis lines=none, ticks=none,
    enlargelimits=false, clip mode=individual, anchor=north west},
}
\tikzset{
  curvelabel/.style={anchor=base west, inner sep=0pt,
    font=\lblfont\fontsize{8.7pt}{9pt}\selectfont},
  callout/.style={line width=0.5pt, -{Triangle[length=5.4pt,width=4.8pt]}},
}

\begin{document}
\begin{tikzpicture}
\useasboundingbox (0,0) rectangle (475.2pt,-633.6pt);

% grid, drawn in picture units (0.3pt each), depth growing downwards
\begin{scope}[x=0.3pt,y=-0.3pt]
  \foreach \i in {0,...,10} {
    \draw[gridgray, line width=0.65pt] ({48*\i},0) -- ({48*\i},2112);
    \draw[gridgray, line width=0.65pt] ({624+96*\i},0) -- ({624+96*\i},2112);
  }
  \draw[griddark, line width=0.65pt] (240,0) -- (240,2112);
  \draw[griddark, line width=0.65pt] (1104,0) -- (1104,2112);
  \draw[griddark, line width=0.75pt] (624,0) -- (624,2112);
  \foreach \d in {1312,1314,...,1532} {
    \draw[black!90, line width=0.55pt] (0,{(\d-1312)*9.6}) -- (480,{(\d-1312)*9.6});
    \draw[black!90, line width=0.55pt] (624,{(\d-1312)*9.6}) -- (1584,{(\d-1312)*9.6});
  }
  \foreach \d in {1320,1330,1340,1360,1370,1380,1390,1410,1420,1430,1440,1460,1470,1480,1490,1510,1520,1530} {
    \draw[black, line width=0.85pt] (0,{(\d-1312)*9.6}) -- (480,{(\d-1312)*9.6});
    \draw[black, line width=0.85pt] (624,{(\d-1312)*9.6}) -- (1584,{(\d-1312)*9.6});
    \node[anchor=west, inner sep=0pt, font=\depthfont\fontsize{6.2pt}{7pt}\selectfont] at (500,{(\d-1312)*9.6}) {\d};
  }
  \foreach \d in {1350,1400,1450,1500} {
    \draw[black, line width=1.15pt] (0,{(\d-1312)*9.6}) -- (480,{(\d-1312)*9.6});
    \draw[black, line width=1.15pt] (624,{(\d-1312)*9.6}) -- (1584,{(\d-1312)*9.6});
    \node[anchor=west, inner sep=0pt, font=\depthfont\bfseries\fontsize{8.5pt}{9pt}\selectfont] at (500,{(\d-1312)*9.6}) {\d};
  }
  % depth track edge and its time marks
  \draw[black, line width=0.9pt] (480,0) -- (480,2112);
  \foreach \d in {1313.1,1321.1,1328.1,1335.6,1351.6,1359.5,1367.4,1375.3,1383.2,1391.1,1399.0,1406.9,1414.8,1422.7,1430.6,1438.5,1446.4,1454.3,1462.2,1470.1,1478.0,1485.9,1493.8,1501.7,1509.6,1517.5,1525.4} {
    \draw[black!80, line width=0.5pt] (480,{(\d-1312)*9.6}) -- (497,{(\d-1312)*9.6});
  }
  \draw[black!80, line width=0.5pt] (480,{(1343.7-1312)*9.6}) -- (505,{(1343.7-1312)*9.6});
\end{scope}

% ---------- left track ----------
\begin{axis}[logtrack, width=144pt, at={(0pt,0pt)}]
  \addplot[red, line width=0.35pt] table[x=v,y=d]{\spcurve};
  \addplot[ttblue, line width=0.65pt, dash pattern=on 3.6pt off 1.6pt on 1.2pt off 1.6pt] table[x=v,y=d]{\tttwo};
  \addplot[ttblue, line width=0.65pt, dash pattern=on 2.2pt off 3.2pt, dash phase=1pt] table[x=v,y=d]{\tttwo};
  \addplot[rgrgreen, line width=0.6pt, line join=round] table[x=v,y=d]{\rgr};
  \addplot[rgrgreen, line width=0.6pt] coordinates {(-2.53,1342.7) (0.42,1344.1) (-3.125,1345.0)};
  \addplot[rgrgreen, line width=0.6pt] coordinates {(-1.98,1435.5) (0.52,1436.6) (-2.01,1437.1)};
  \addplot[ttblue, line width=0.65pt, line join=round] table[x=v,y=d]{\ttone};
  \addplot[ttblue, line width=0.65pt, dash pattern=on 14.4pt off 3.6pt] table[x=v,y=d]{\ttthree};
  \addplot[black, line width=0.65pt, dash pattern=on 14.4pt off 3.6pt, dash phase=15.93pt] coordinates {(1.875,1312) (1.875,1532)};
  \addplot[black, line width=1.1pt, line join=round] table[x=v,y=d]{\svel};

  \node[curvelabel, text=ttblue] at (axis cs:6.52,1379.04) {TT4};
  \draw[callout, ttblue] (axis cs:6.81,1379.76) -- (axis cs:6.48,1383.88);
  \node[curvelabel, text=ttblue] at (axis cs:3.54,1386.9) {TT3};
  \draw[callout, ttblue] (axis cs:3.90,1387.83) -- (axis cs:3.50,1391.96);
  \node[curvelabel, text=ttblue] at (axis cs:6.46,1394.81) {TT2};
  \draw[callout, ttblue] (axis cs:6.67,1395.91) -- (axis cs:6.35,1400.02);
  \node[curvelabel, text=ttblue] at (axis cs:4.375,1403.04) {TT1};
  \draw[callout, ttblue] (axis cs:4.625,1403.77) -- (axis cs:4.31,1407.73);
  \node[curvelabel] at (axis cs:1.77,1410.96) {SVEL};
  \draw[callout, black] (axis cs:2.19,1411.86) -- (axis cs:1.73,1415.96);
  \node[curvelabel, text=red] at (axis cs:7.15,1419.04) {SP};
  \draw[callout, red] (axis cs:7.33,1419.76) -- (axis cs:7.08,1423.15);
  \node[curvelabel, text=rgrgreen] at (axis cs:8.79,1427.08) {RGR};
  \draw[callout, rgrgreen] (axis cs:9.10,1427.94) -- (axis cs:8.71,1431.9);
  \node[curvelabel] at (axis cs:10.04,1427.08) {STIT};
  \draw[callout, black] (axis cs:10.44,1427.94) -- (axis cs:9.99,1431.9);
  \node[curvelabel] at (axis cs:1.94,1434.97) {BS};
  \draw[callout, black] (axis cs:2.15,1435.85) -- (axis cs:1.875,1439.99);
\end{axis}

% ---------- right track ----------
\begin{axis}[logtrack, width=288pt, at={(187.2pt,0pt)}]
  \addplot[dtblue, line width=1.1pt, line join=round] table[x=v,y=d]{\dt};
  \addplot[dtblue, line width=1.1pt, line join=round, unbounded coords=jump] table[x=v,y=d]{\dtwrap};
  \addplot[black, line width=1.1pt, line join=round] table[x=v,y=d]{\sphi};
  \addplot[black, line width=0.8pt, dash pattern=on 1.4pt off 2.6pt] table[x=v,y=d]{\tens};

  \node[curvelabel] at (axis cs:1.24,1402.94) {SPHI};
  \draw[callout, black] (axis cs:1.43,1403.77) -- (axis cs:1.21,1407.73);
  \node[curvelabel, text=dtblue] at (axis cs:2.06,1434.97) {DT};
  \draw[callout, dtblue] (axis cs:2.15,1435.85) -- (axis cs:2.02,1439.99);
  \node[curvelabel] at (axis cs:9.25,1435.1) {TENS};
  \draw[callout, black] (axis cs:9.47,1435.85) -- (axis cs:9.20,1439.99);
\end{axis}
\end{tikzpicture}
\end{document}
